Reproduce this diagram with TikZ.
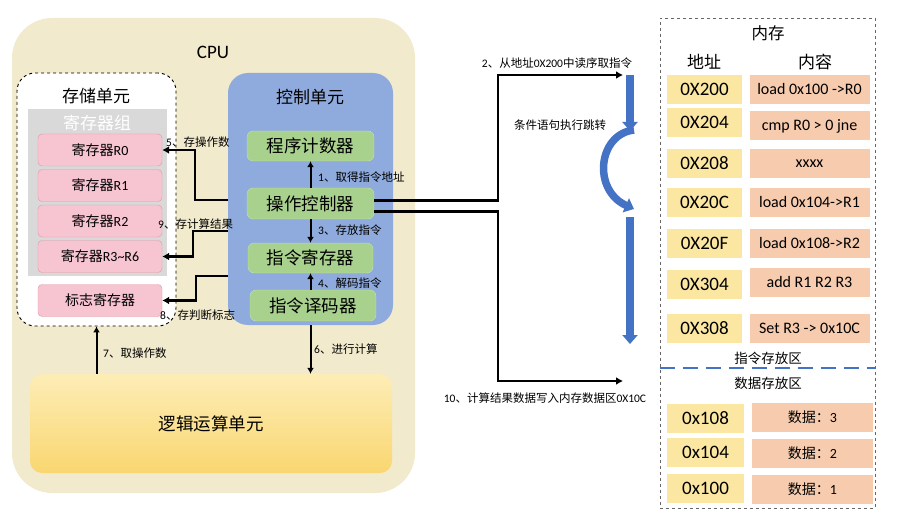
\documentclass[tikz,border=0pt]{standalone}
\usepackage{fontspec}
\setmainfont{Carlito}
\newfontfamily\cjk{Noto Sans CJK SC}
\usetikzlibrary{arrows.meta,calc}

\definecolor{cpubg}{RGB}{241,234,205}
\definecolor{ctrlfill}{RGB}{143,170,220}
\definecolor{unitfill}{RGB}{169,209,142}
\definecolor{unitline}{RGB}{196,226,176}
\definecolor{regfill}{RGB}{247,196,210}
\definecolor{regline}{RGB}{226,150,165}
\definecolor{groupfill}{RGB}{217,217,217}
\definecolor{alutop}{RGB}{253,237,182}
\definecolor{alubot}{RGB}{249,214,112}
\definecolor{addrfill}{RGB}{251,230,162}
\definecolor{contfill}{RGB}{246,203,174}
\definecolor{jumpblue}{RGB}{68,114,196}

\tikzset{
  reg/.style={draw=regline, fill=regfill, rounded corners=4pt, minimum width=124pt, minimum height=32pt, inner sep=0pt, font=\fontsize{14}{16}\selectfont},
  unit/.style={draw=unitline, fill=unitfill, rounded corners=6pt, minimum width=127pt, minimum height=30pt, inner sep=0pt, font=\cjk\fontsize{17.5}{20}\selectfont},
  addr/.style={fill=addrfill, minimum width=75pt, minimum height=29pt, inner sep=0pt, font=\fontsize{19}{22}\selectfont},
  cont/.style={fill=contfill, minimum width=120pt, minimum height=29pt, inner sep=0pt, font=\fontsize{16}{18}\selectfont},
  title/.style={font=\cjk\fontsize{17}{20}\selectfont, inner sep=0pt},
  lbl/.style={font=\fontsize{11.5}{13}\selectfont, inner sep=0pt},
  conn/.style={line width=2.5pt, -{Latex[length=7pt,width=8pt]}},
  flow/.style={line width=2pt, -{Latex[length=6pt,width=7pt]}},
  jump/.style={draw=jumpblue, line width=7.5pt, -{Triangle[length=9pt,width=15pt]}}
}

\begin{document}
\begin{tikzpicture}[x=1pt,y=-1pt]
\useasboundingbox (0,0) rectangle (897,516);

\node[fill=cpubg, rounded corners=40pt, minimum width=403pt, minimum height=475pt] (cpu) at (213.5,255.5) {};
\node[font=\fontsize{19}{22}\selectfont] (cpulbl) at (213,52) {CPU};

\node[draw, dashed, line width=0.9pt, fill=white, rounded corners=18pt, minimum width=159pt, minimum height=253pt] (store) at (96.5,199.5) {};
\node[title] (storelbl) at (96,96) {存储单元};
\node[fill=groupfill, minimum width=139pt, minimum height=167pt] (group) at (97.5,192.5) {};
\node[title, text=white] (grouplbl) at (97,123) {寄存器组};
\node[reg] (r0) at (100,150) {{\cjk 寄存器}R0};
\node[reg] (r1) at (100,185.5) {{\cjk 寄存器}R1};
\node[reg] (r2) at (100,221) {{\cjk 寄存器}R2};
\node[reg] (r3) at (100,256.5) {{\cjk 寄存器}R3\textasciitilde R6};
\node[reg, font=\cjk\fontsize{14}{16}\selectfont] (flag) at (100,300.5) {标志寄存器};

\node[fill=ctrlfill, rounded corners=20pt, minimum width=165pt, minimum height=252pt] (ctrl) at (310.5,199) {};
\node[title] (ctrllbl) at (310,97) {控制单元};
\node[unit] (pc) at (310.5,146) {程序计数器};
\node[unit, minimum height=31pt] (opctl) at (310.5,203.5) {操作控制器};
\node[unit, minimum width=125pt] (instreg) at (310.5,258) {指令寄存器};
\node[unit, minimum width=126pt, minimum height=31pt] (decoder) at (313,305.5) {指令译码器};

\node[top color=alutop, bottom color=alubot, rounded corners=12pt, minimum width=362pt, minimum height=99pt, font=\cjk\fontsize{17.5}{20}\selectfont] (alu) at (211,423.5) {逻辑运算单元};

\node[draw=gray!80!black, dashed, line width=0.9pt, minimum width=215pt, minimum height=490pt] (mem) at (767.5,263) {};
\node[title, font=\cjk\fontsize{16.5}{20}\selectfont] (memlbl) at (768,33) {内存};
\node[title] (addrlbl) at (704,62) {地址};
\node[title] (contlbl) at (815,62) {内容};

\foreach \name/\y/\txt in {a200/89.5/0X200, a204/122.5/0X204, a208/163.5/0X208, a20C/202.5/0X20C, a20F/243/0X20F, a304/284/0X304, a308/328.5/0X308}
  \node[addr] (\name) at (704.5,\y) {\txt};
\foreach \name/\y/\txt in {c200/89.5/load 0x100 ->R0, c204/126/cmp R0 > 0 jne, c208/163.5/xxxx, c20C/202.5/load 0x104->R1, c20F/243/load 0x108->R2, c304/282/add R1 R2 R3, c308/328.5/Set R3 -> 0x10C}
  \node[cont] (\name) at (809.5,\y) {\txt};

\node[lbl, font=\cjk\fontsize{13.5}{16}\selectfont] (codelbl) at (768,358) {指令存放区};
\coordinate (split) at (768,368);
\draw[jumpblue, line width=2pt, dash pattern=on 15pt off 8pt] (mem.west |- split) -- (mem.east |- split);
\node[lbl, font=\cjk\fontsize{13.5}{16}\selectfont] (datalbl) at (768,383) {数据存放区};

\foreach \name/\y/\txt in {d108/418/0x108, d104/452.5/0x104, d100/488.5/0x100}
  \node[addr, minimum width=77pt] (\name) at (705.5,\y) {\txt};
\foreach \name/\y/\txt in {v108/417/3, v104/453.5/2, v100/489.5/1}
  \node[cont, minimum width=121pt, font=\fontsize{14}{16}\selectfont] (\name) at (812.5,\y) {{\cjk 数据：}\txt};

\coordinate (fetch) at (623,75);
\coordinate (write) at (623,381);
\coordinate (jtopA) at (630,75);
\coordinate (jtopB) at (630,131);
\coordinate (arcA) at (634,130);
\coordinate (arcB) at (634,209);
\coordinate (jlowA) at (630,217);
\coordinate (jlowB) at (630,344);
\draw[jump] (jtopA) -- (jtopB);
\draw[jump] (arcA) .. controls (598,134) and (592,190) .. (arcB);
\draw[jump] (jlowA) -- (jlowB);
\node[lbl, font=\cjk\fontsize{11.5}{13}\selectfont] (jumplbl) at (560,125) {条件语句执行跳转};

\draw[flow] (opctl.north) -- (pc.south);
\draw[flow] (opctl.south) -- (instreg.north);
\draw[flow] (decoder.north -| instreg) -- (instreg.south);
\draw[flow] (ctrl.south) -- (ctrl.south |- alu.north);
\draw[flow] (store.south |- alu.north) -- (store.south);

\draw[conn] ($(ctrl.west)+(0,1)$) -- ++(-33,0) |- (r0.east);
\draw[conn] ($(ctrl.west)+(0,32)$) -- ++(-35,0) |- (r3.east);
\draw[conn] ($(ctrl.west)+(0,77)$) -- ++(-32,0) |- (flag.east);
\draw[conn] ($(opctl.east)+(0,-3)$) -| ($(fetch)+(-125,0)$) -- (fetch);
\draw[conn] ($(opctl.east)+(0,8)$) -| ($(write)+(-125,0)$) -- (write);

\node[lbl, anchor=west] (l1) at (318,177) {1{\cjk 、取得指令地址}};
\node[lbl, anchor=west] (l3) at (318,230) {3{\cjk 、存放指令}};
\node[lbl, anchor=west] (l4) at (318,283) {4{\cjk 、解码指令}};
\node[lbl, anchor=west] (l5) at (166,142) {5{\cjk 、存操作数}};
\node[lbl, anchor=west] (l9) at (158,224) {9{\cjk 、存计算结果}};
\node[lbl, anchor=west] (l8) at (160,315) {8{\cjk 、存判断标志}};
\node[lbl, anchor=west] (l7) at (103,353) {7{\cjk 、取操作数}};
\node[lbl, anchor=west] (l6) at (314,349) {6{\cjk 、进行计算}};
\node[lbl] (l2) at (557,63) {2{\cjk 、从地址}0X200{\cjk 中读序取指令}};
\node[lbl] (l10) at (545,398) {10{\cjk 、计算结果数据写入内存数据区}0X10C};
\end{tikzpicture}
\end{document}
